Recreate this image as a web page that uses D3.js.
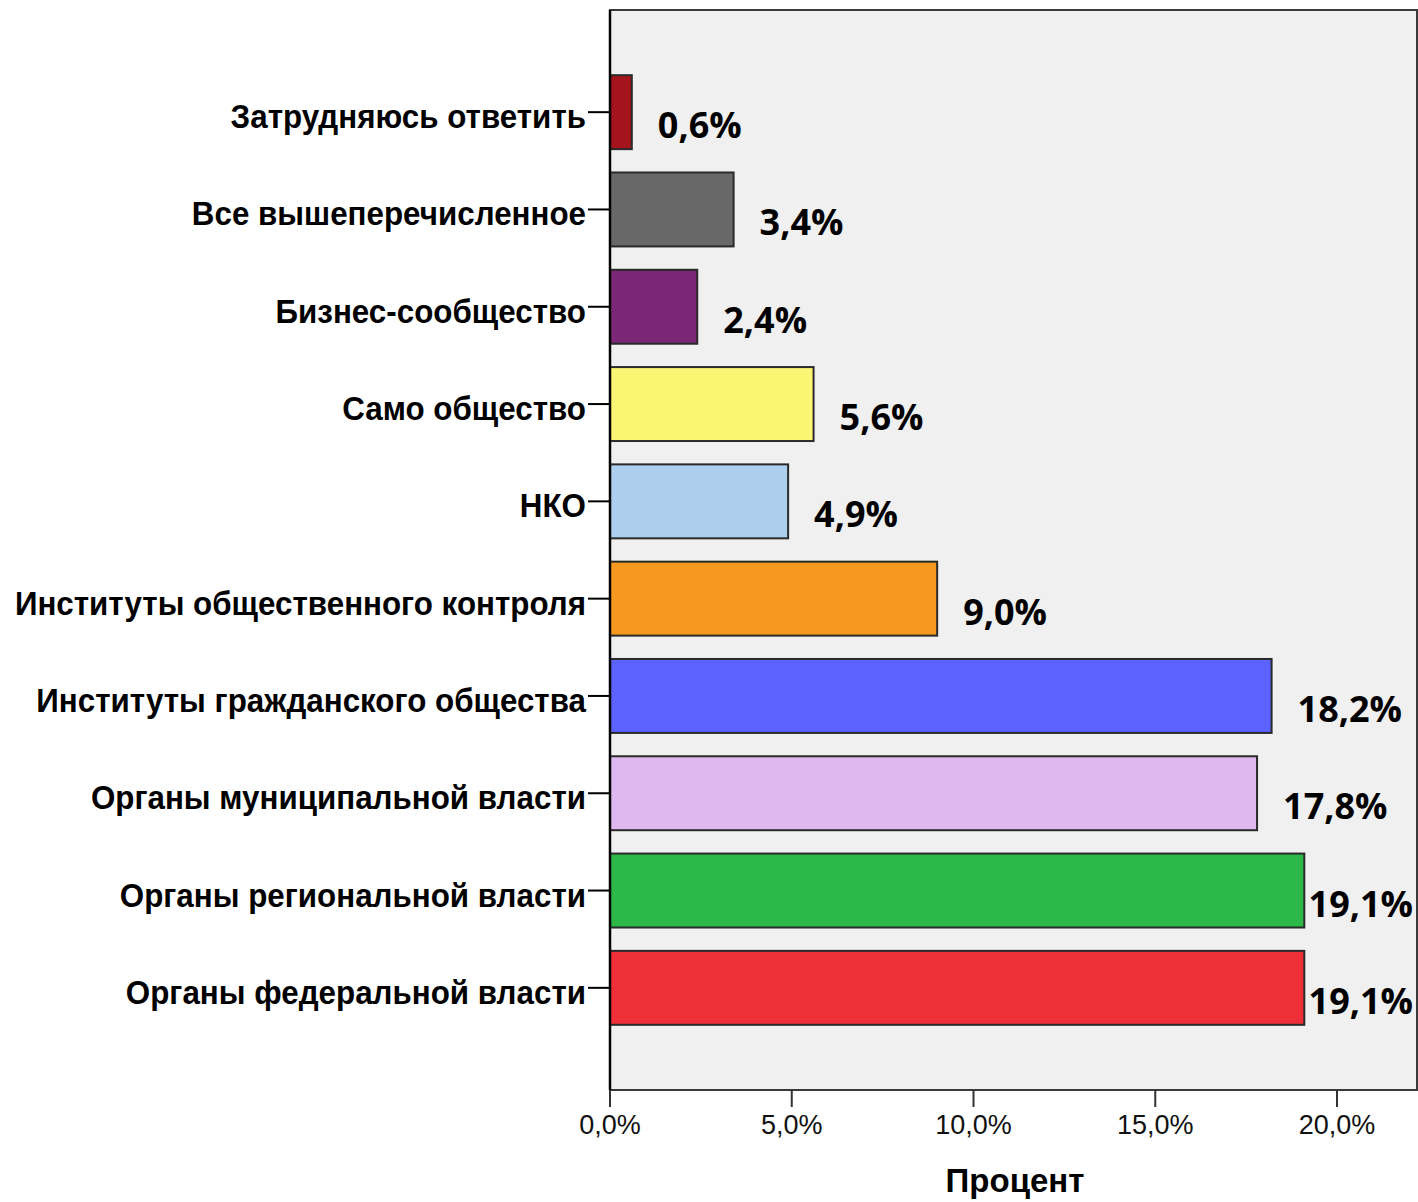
<!DOCTYPE html>
<meta charset="utf-8">
<head>
	<title>Процент</title>
</head>

<style>
	body { margin: 0; background: #fff; }
	svg { display: block; }
	.cat { font-family: "Liberation Sans", Arial, sans-serif; font-weight: bold; font-size: 33px; fill: #000; }
	.val { font-family: "Open Sans", sans-serif; font-weight: bold; font-size: 36px; fill: #000; }
	.tick-lbl { font-family: "Liberation Sans", Arial, sans-serif; font-size: 27px; fill: #111; }
</style>

<body>

	<div id="wrapper"></div>

	<script src='https://d3js.org/d3.v7.min.js'></script>
	<script>

	// categories top to bottom
	var categories = ["Затрудняюсь ответить", "Все вышеперечисленное", "Бизнес-сообщество", "Само общество", "НКО",
		"Институты общественного контроля", "Институты гражданского общества", "Органы муниципальной власти",
		"Органы региональной власти", "Органы федеральной власти"];
	var percents = [0.6, 3.4, 2.4, 5.6, 4.9, 9.0, 18.2, 17.8, 19.1, 19.1];
	var barColors = ["#a3141c", "#686868", "#7b2777", "#fbf574", "#adcfee", "#f7991f", "#5b62fe", "#dfb8f0", "#2db84a", "#ee2f38"];
	var xTicks = [0, 5, 10, 15, 20];
	var xTitle = "Процент";

	var width = 1418, height = 1202;
	var plotL = 610, plotR = 1417, plotT = 10, plotB = 1090;

	var svg = d3.select("#wrapper").append("svg")
		.attr("width", width)
		.attr("height", height);

	var x = d3.scaleLinear().domain([0, 22.2]).range([plotL, plotR]);
	var y = d3.scaleBand().domain(categories).range([plotT, plotB])
		.paddingInner(0.24).paddingOuter(0.67);

	var comma = function(v) { return d3.format(".1f")(v).replace(".", ",") + "%"; };

	// plot background + frame
	svg.append("rect")
		.attr("x", plotL).attr("y", plotT)
		.attr("width", plotR - plotL).attr("height", plotB - plotT)
		.attr("fill", "#f0f0f0")
		.attr("stroke", "#3a3a3a")
		.attr("stroke-width", 2);

	var data = categories.map(function(c, i) {
		return { cat: c, v: percents[i], color: barColors[i] };
	});

	svg.selectAll(".bar")
		.data(data)
		.enter().append("rect")
		.attr("class", "bar")
		.attr("x", x(0))
		.attr("y", function(d) { return y(d.cat); })
		.attr("width", function(d) { return x(d.v) - x(0); })
		.attr("height", y.bandwidth())
		.attr("fill", function(d) { return d.color; })
		.attr("stroke", "#2a2a2a")
		.attr("stroke-width", 2);

	// value labels, kept inside the frame
	svg.selectAll(".val")
		.data(data)
		.enter().append("text")
		.attr("class", "val")
		.text(function(d) { return comma(d.v); })
		.attr("x", function(d) {
			var w = this.getComputedTextLength();
			return Math.min(x(d.v) + 26, plotR - 4 - w);
		})
		.attr("y", function(d) { return y(d.cat) + y.bandwidth() / 2 + 26; });

	// left axis
	svg.append("line")
		.attr("x1", plotL).attr("x2", plotL)
		.attr("y1", plotT).attr("y2", plotB)
		.attr("stroke", "#000").attr("stroke-width", 2.5);

	var cats = svg.selectAll(".catg")
		.data(categories)
		.enter().append("g")
		.attr("transform", function(d) { return "translate(0," + (y(d) + y.bandwidth() / 2) + ")"; });

	cats.append("line")
		.attr("x1", plotL - 22).attr("x2", plotL)
		.attr("stroke", "#000").attr("stroke-width", 2);

	cats.append("text")
		.attr("class", "cat")
		.attr("text-anchor", "end")
		.attr("transform", "translate(" + (plotL - 24) + ",16) scale(0.95,1)")
		.text(function(d) { return d; });

	// bottom axis
	var xt = svg.selectAll(".xt")
		.data(xTicks)
		.enter().append("g")
		.attr("transform", function(d) { return "translate(" + x(d) + "," + plotB + ")"; });

	xt.append("line")
		.attr("y1", 0).attr("y2", 17)
		.attr("stroke", "#333").attr("stroke-width", 2);

	xt.append("text")
		.attr("class", "tick-lbl")
		.attr("text-anchor", "middle")
		.attr("y", 44)
		.text(function(d) { return comma(d); });

	svg.append("text")
		.attr("class", "cat")
		.attr("text-anchor", "middle")
		.attr("x", 1015)
		.attr("y", 1192)
		.text(xTitle);

	</script>
</body>
</html>
